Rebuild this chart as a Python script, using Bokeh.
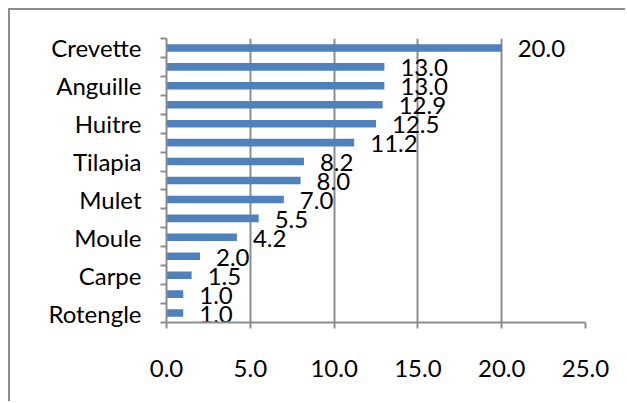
from bokeh.plotting import figure
from bokeh.models import Range1d, FixedTicker, PrintfTickFormatter, ColumnDataSource
from bokeh.core.properties import value
from bokeh.embed import file_html
from bokeh.resources import INLINE

# Categories from bottom to top (only every other one is labelled in the chart)
labels = ["Rotengle", "", "Carpe", "", "Moule", "", "Mulet", "",
          "Tilapia", "", "Huitre", "", "Anguille", "", "Crevette"]
values = [1.0, 1.0, 1.5, 2.0, 4.2, 5.5, 7.0, 8.0,
          8.2, 11.2, 12.5, 12.9, 13.0, 13.0, 20.0]
x_ticks = [0, 5, 10, 15, 20, 25]

FONT = "Lato"
FS = "24px"
GRAY = "#8c8c8c"
BLUE = "#4f81bd"

n = len(values)
ypos = [i + 0.5 for i in range(n)]
src = ColumnDataSource(dict(y=ypos, v=values, t=["%.1f" % v for v in values]))

p = figure(width=617, height=393, output_backend="svg", toolbar_location=None,
           x_range=Range1d(0, 25), y_range=Range1d(0, n),
           min_border_left=156, min_border_right=42, min_border_top=28,
           min_border_bottom=81)
p.styles = {"margin-left": "8px", "margin-top": "8px",
            "border-top": f"2px solid {GRAY}", "border-left": f"2px solid {GRAY}"}
p.outline_line_color = None
p.background_fill_color = "white"
p.border_fill_color = "white"

p.hbar(y="y", right="v", left=0, height=0.4, source=src,
       fill_color=BLUE, line_color=None)
p.text(x="v", y="y", text="t", source=src, x_offset=16, y_offset=1,
       text_baseline="middle", text_align="left",
       text_font=value(FONT), text_font_size=FS, text_color="black")

# x axis
xa = p.xaxis[0]
xa.ticker = FixedTicker(ticks=x_ticks)
xa.formatter = PrintfTickFormatter(format="%.1f")
xa.axis_line_color = GRAY
xa.axis_line_width = 2
xa.major_tick_line_color = GRAY
xa.major_tick_line_width = 2
xa.major_tick_out = 6
xa.major_tick_in = 0
xa.minor_tick_line_color = None
xa.major_label_text_font = FONT
xa.major_label_text_font_size = FS
xa.major_label_text_color = "black"
xa.major_label_standoff = 31

# y axis
ya = p.yaxis[0]
label_ticks = [ypos[i] for i in range(n) if labels[i]]
ya.ticker = FixedTicker(ticks=label_ticks, minor_ticks=list(range(n + 1)))
ya.major_label_overrides = {ypos[i]: labels[i] for i in range(n) if labels[i]}
ya.axis_line_color = GRAY
ya.axis_line_width = 2
ya.major_tick_line_color = None
ya.major_tick_out = 0
ya.major_tick_in = 0
ya.minor_tick_line_color = GRAY
ya.minor_tick_line_width = 2
ya.minor_tick_out = 6
ya.minor_tick_in = 0
ya.major_label_text_font = FONT
ya.major_label_text_font_size = FS
ya.major_label_text_color = "black"
ya.major_label_standoff = 19

p.xgrid.ticker = FixedTicker(ticks=x_ticks)
p.xgrid.grid_line_color = GRAY
p.xgrid.grid_line_width = 2
p.ygrid.grid_line_color = None

open("out.html", "w").write(file_html(p, INLINE))
